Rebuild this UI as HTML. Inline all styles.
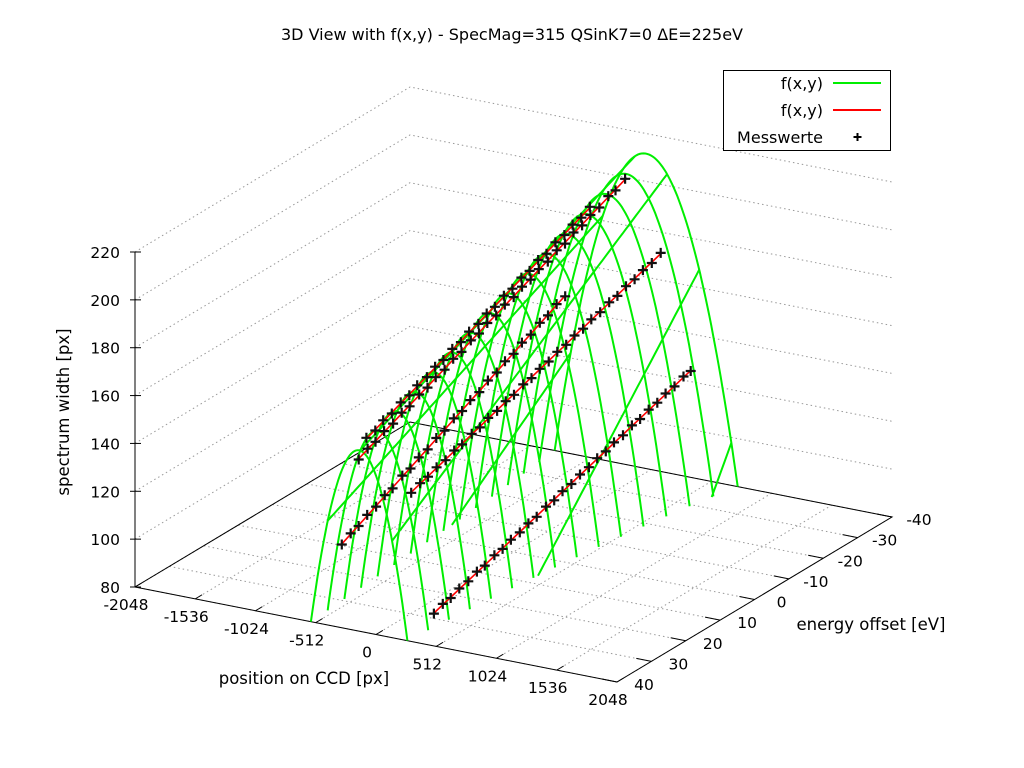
<!DOCTYPE html>
<html><head><meta charset="utf-8"><style>
html,body{margin:0;padding:0;background:#fff;}
svg{display:block;font-family:"DejaVu Sans","Liberation Sans",sans-serif;}
</style></head><body>
<svg id="chart" width="1024" height="768" viewBox="0 0 1024 768" xmlns="http://www.w3.org/2000/svg">
<rect x="0" y="0" width="1024" height="768" fill="#fff"/>
<g id="grid"></g>
<g id="axes"></g>
<g id="surface"></g>
<g id="fits"></g>
<g id="points"></g>
<text x="512" y="40" text-anchor="middle" font-size="16" fill="#000">3D View with f(x,y) - SpecMag=315 QSinK7=0 ΔE=225eV</text>
<text x="304" y="684" text-anchor="middle" font-size="16.5">position on CCD [px]</text>
<text x="871" y="630" text-anchor="middle" font-size="16.5">energy offset [eV]</text>
<text transform="translate(69,412) rotate(-90)" text-anchor="middle" font-size="16.5">spectrum width [px]</text>
<g>
<rect x="723.5" y="70.5" width="167" height="80" fill="#fff" stroke="#000" stroke-width="1"/>
<g><text x="823" y="89" text-anchor="end" font-size="16">f(x,y)</text><line x1="833" y1="83" x2="881" y2="83" stroke="#00ee00" stroke-width="2"/></g>
<g><text x="823" y="116" text-anchor="end" font-size="16">f(x,y)</text><line x1="833" y1="110" x2="881" y2="110" stroke="#ff0000" stroke-width="2"/></g>
<g><text x="823" y="143" text-anchor="end" font-size="16">Messwerte</text><path d="M853.5,137H861.5M857.5,133V141" stroke="#000" stroke-width="2"/></g>
</g>
</svg>
<script>
// ---- data ----
const xTicks = [-2048,-1536,-1024,-512,0,512,1024,1536,2048];
const yTicks = [40,30,20,10,0,-10,-20,-30,-40];
const zTicks = [80,100,120,140,160,180,200,220];
// surface parameters: parabola in position, linear blend in energy
const surfFront = [155.6, -143, 410];   // peak width, center position, half-width at E=40
const surfBack  = [211.6, -41, 778];    // at E=-40
// measurement series (fixed position, energy sweep)
const seriesPos = [492, 299, -291, -147, -82];
const energiesA = [40,37.4,35.1,32.6,30,27.5,25.2,22.4,20,17.6,15,12.5,10.1,7.4,5,2.6,0,-2.5,-5.1,-7.5,-10,-12.4,-15,-17.6,-20,-22.5,-25,-27.4,-30,-32.6,-34.7];
const widths0 = [93.5,95.3,95.8,97.6,98.4,100.3,100.8,102.7,103.3,105.1,105.9,107.5,108.2,110.1,110.7,112.4,113.2,115.0,115.8,117.5,118.2,119.9,120.6,122.5,123.1,124.9,125.6,127.4,128.1,130.0,130.5];
const energiesB = [40,37.4,35.1,32.6,30,27.5,25.2,22.4,20,17.6,15,12.5,10.1,7.4,5,2.6,0,-2.5,-5.1,-7.5,-10,-12.4,-15,-17.6,-20,-22.5,-25,-27.4,-30,-32.6];
const widths1 = [142.1,143.9,144.6,146.4,147.1,149.0,149.6,151.6,152.2,154.1,154.8,156.7,157.3,159.3,159.9,161.7,162.5,164.4,165.1,166.9,167.6,169.4,170.2,172.1,172.7,174.6,175.3,177.1,177.8,179.8];
const energiesC = [40,37.4,35.1,32.6,30,27.5,25.2,22.4,20,17.6,15,12.5,10.1,7.4,5,2.6,0,-2.5,-5.1,-7.5,-10,-12.4,-15,-17.6,-20,-22.5,-25];
const widths2 = [114.8,117.2,118.3,120.8,122.0,124.6,125.5,128.4,129.3,131.9,133.0,135.6,136.6,139.4,140.4,142.9,144.0,146.7,147.8,150.4,151.4,154.0,155.1,157.8,158.8,161.4,162.5];
const energiesD = [40,37.4,35.1,32.6,30,27.5,25.2,22.4,20,17.6,15,12.5,10.1,7.4,5,2.6,0,-2.5,-5.1,-7.5,-10,-12.4,-15,-17.6,-20,-22.5,-25,-27.4,-30,-32.6,-34.7,-37.5];
const widths3 = [151.7,154.0,154.9,157.2,158.1,160.5,161.2,163.7,164.5,166.8,167.7,170.1,170.9,173.4,174.2,176.5,177.4,179.8,180.7,183.0,183.8,186.1,187.0,189.5,190.2,192.7,193.5,195.8,196.7,199.2,199.8,202.2];
const widths4 = [161.4,162.2,164.5,165.2,167.6,168.4,170.6,171.6,173.9,174.6,177.0,177.7,180.0,180.9,183.2,183.9,186.3,187.1,189.5,190.2,192.6,193.2,195.7,196.5,198.8,199.5,201.9];
const fitIntercept = [113.5, 162.8, 144.4, 177.8, 185.9];
const fitSlope = [-0.495, -0.512, -0.736, -0.644, -0.623];

// ---- projection ----
const O = [135, 587], EX = [482, 95], EY = [275, -165], EZ = 335;
function P(x, e, z) {
  const u = (x + 2048) / 4096, v = (40 - e) / 80, w = (z - 80) / 140;
  return [O[0] + EX[0]*u + EY[0]*v, O[1] + EX[1]*u + EY[1]*v - EZ*w];
}
const NS = 'http://www.w3.org/2000/svg';
function mk(tag, attrs, parent) {
  const el = document.createElementNS(NS, tag);
  for (const k in attrs) el.setAttribute(k, attrs[k]);
  parent.appendChild(el);
  return el;
}
function pts(arr) { return arr.map(p => p[0].toFixed(1) + ',' + p[1].toFixed(1)).join(' '); }
const gGrid = document.getElementById('grid'), gAx = document.getElementById('axes');
const gS = document.getElementById('surface'), gF = document.getElementById('fits'), gP = document.getElementById('points');
const dot = {stroke: '#999', 'stroke-width': 1, 'stroke-dasharray': '1.5,3', fill: 'none'};

// base grid
xTicks.forEach(x => {
  const l = mk('polyline', Object.assign({points: pts([P(x, 40, 80), P(x, -40, 80)])}, dot), gGrid);
  
  
});
yTicks.forEach(e => {
  const l = mk('polyline', Object.assign({points: pts([P(-2048, e, 80), P(2048, e, 80)])}, dot), gGrid);
  
  
});
zTicks.forEach(z => {
  const l = mk('polyline', Object.assign({points: pts([P(-2048, 40, z), P(-2048, -40, z), P(2048, -40, z)])}, dot), gGrid);
  
  
});

// border
const border = mk('polygon', {points: pts([P(-2048,40,80), P(2048,40,80), P(2048,-40,80), P(-2048,-40,80)]), fill: 'none', stroke: '#000', 'stroke-width': 1}, gAx);


const zax = mk('line', {x1: P(-2048,40,80)[0], y1: P(-2048,40,80)[1], x2: P(-2048,40,220)[0], y2: P(-2048,40,220)[1], stroke: '#000', 'stroke-width': 1}, gAx);



// ticks and labels
xTicks.forEach(x => {
  const a = P(x, 40, 80), b = P(x, 38, 80);
  const t = mk('line', {x1: a[0], y1: a[1], x2: b[0], y2: b[1], stroke: '#000'}, gAx);
  
  
  const lb = mk('text', {x: a[0] - 9, y: a[1] + 23, 'text-anchor': 'middle', 'font-size': 15.5}, gAx);
  lb.textContent = String(x);
  
  
});
yTicks.forEach(e => {
  const a = P(2048, e, 80), b = P(1920, e, 80);
  const t = mk('line', {x1: a[0], y1: a[1], x2: b[0], y2: b[1], stroke: '#000'}, gAx);
  
  
  const lb = mk('text', {x: a[0] + 27, y: a[1] + 8, 'text-anchor': 'middle', 'font-size': 15.5}, gAx);
  lb.textContent = String(e);
  
  
});
zTicks.forEach(z => {
  const a = P(-2048, 40, z);
  const t = mk('line', {x1: a[0] - 5, y1: a[1], x2: a[0] + 6, y2: a[1], stroke: '#000'}, gAx);
  
  
  const lb = mk('text', {x: a[0] - 15, y: a[1] + 6, 'text-anchor': 'end', 'font-size': 15.5}, gAx);
  lb.textContent = String(z);
  
  
});

// surface function
function par(p, x) { const d = (x - p[1]) / p[2]; return 80 + (p[0] - 80) * (1 - d*d); }
function f(x, e) { const t = (40 - e) / 80; return (1 - t) * par(surfFront, x) + t * par(surfBack, x); }
function drawClipped(samples, name) {
  let seg = [];
  const flush = () => {
    if (seg.length > 1) {
      const pl = mk('polyline', {points: pts(seg), fill: 'none', stroke: '#00ee00', 'stroke-width': 2}, gS);
      
      
    }
    seg = [];
  };
  for (let i = 0; i < samples.length; i++) {
    const s = samples[i];
    if (s[2] >= 80) {
      if (seg.length === 0 && i > 0) {
        const q = samples[i-1], k = (80 - q[2]) / (s[2] - q[2]);
        seg.push(P(q[0] + k*(s[0]-q[0]), q[1] + k*(s[1]-q[1]), 80));
      }
      seg.push(P(s[0], s[1], s[2]));
    } else if (seg.length) {
      const q = samples[i-1], k = (80 - q[2]) / (s[2] - q[2]);
      seg.push(P(q[0] + k*(s[0]-q[0]), q[1] + k*(s[1]-q[1]), 80));
      flush();
    }
  }
  flush();
}
const ISO = 16;
for (let k = 0; k < ISO; k++) {
  const e = 40 - 80 * k / (ISO - 1), s = [];
  for (let x = -2048; x <= 2048; x += 16) s.push([x, e, f(x, e)]);
  drawClipped(s, 'surface-arch');
}
for (let k = 0; k < ISO; k++) {
  const x = -2048 + 4096 * k / (ISO - 1), s = [];
  for (let e = 40; e >= -40; e -= 1) s.push([x, e, f(x, e)]);
  drawClipped(s, 'surface-line');
}

// fits and points
const seriesE = [energiesA, energiesB, energiesC, energiesD, energiesC];
const seriesW = [widths0, widths1, widths2, widths3, widths4];
seriesPos.forEach((pos, i) => {
  const es = seriesE[i];
  const e0 = es[0], e1 = es[es.length - 1];
  const a = P(pos, e0, fitIntercept[i] + fitSlope[i]*e0), b = P(pos, e1, fitIntercept[i] + fitSlope[i]*e1);
  const ln = mk('line', {x1: a[0], y1: a[1], x2: b[0], y2: b[1], stroke: '#ff0000', 'stroke-width': 1.6}, gF);
  
  
});
seriesPos.forEach((pos, i) => {
  seriesE[i].forEach((e, j) => {
    const p = P(pos, e, seriesW[i][j]);
    const m = mk('path', {d: `M${(p[0]-5).toFixed(1)},${p[1].toFixed(1)}h10M${p[0].toFixed(1)},${(p[1]-5).toFixed(1)}v10`, stroke: '#111', 'stroke-width': 2.2, fill: 'none'}, gP);
    
    
  });
});
</script>
</body></html>
